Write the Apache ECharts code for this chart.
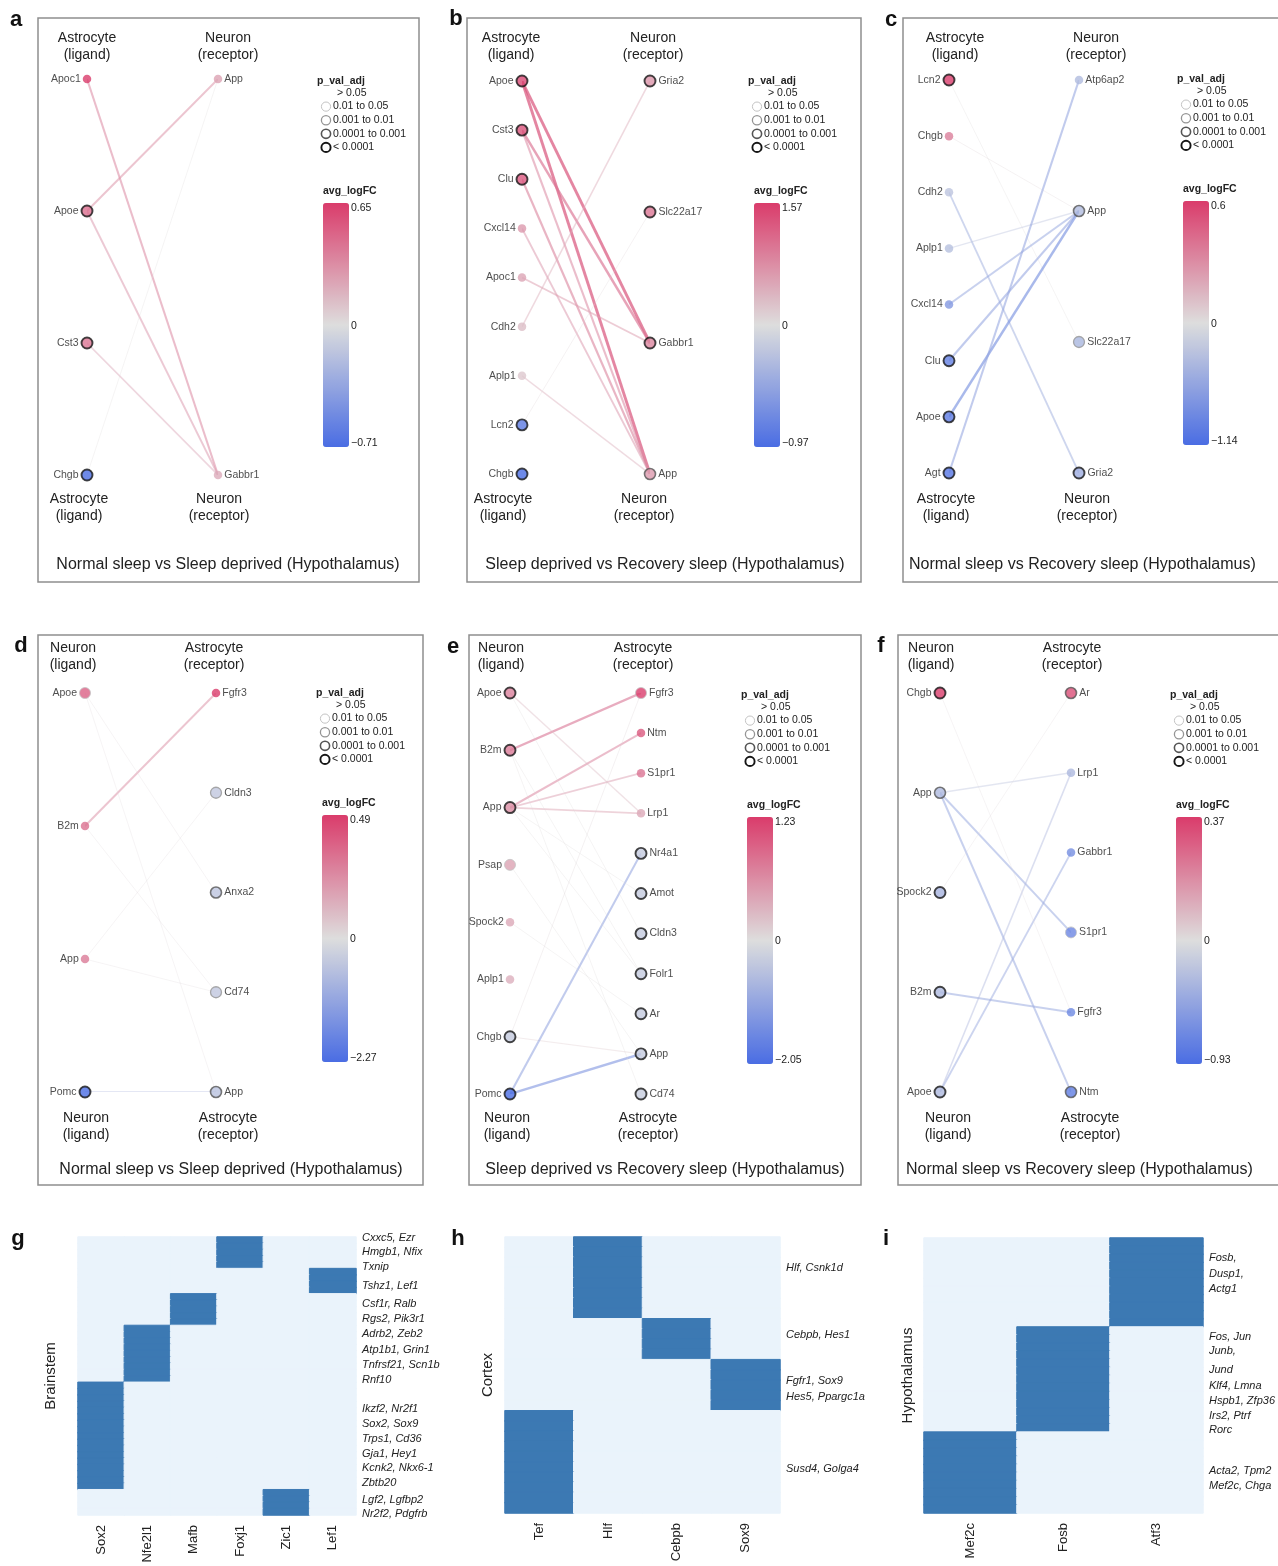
<!DOCTYPE html>
<html>
<head>
<meta charset="utf-8">
<script src="https://cdn.jsdelivr.net/npm/echarts@6/dist/echarts.min.js"></script>
<style>
  html, body { margin: 0; padding: 0; background: #ffffff; }
  #fig { width: 1278px; height: 1566px; }
</style>
</head>
<body>
<div id="fig"></div>
<script>
// ---------- Ligand-receptor networks (avg_logFC, adjusted p-value class 0..4) ----------
// p class: 0 '> 0.05', 1 '0.01 to 0.05', 2 '0.001 to 0.01', 3 '0.0001 to 0.001', 4 '< 0.0001'
// edges: [ligand index, receptor index, interaction score on the -1..1 colour scale]

// a: astrocyte -> neuron, Normal sleep vs Sleep deprived
const aLigand = ['Apoc1', 'Apoe', 'Cst3', 'Chgb'];
const aLigandFC = [0.65, 0.45, 0.42, -0.71];
const aLigandP = [0, 4, 4, 4];
const aReceptor = ['App', 'Gabbr1'];
const aReceptorFC = [0.24, 0.2];
const aReceptorP = [0, 0];
const aEdges = [[0, 1, 0.5], [1, 0, 0.45], [1, 1, 0.42], [2, 1, 0.32], [3, 0, 0.04]];
const aScale = [-0.71, 0.65];

// b: astrocyte -> neuron, Sleep deprived vs Recovery sleep
const bLigand = ['Apoe', 'Cst3', 'Clu', 'Cxcl14', 'Apoc1', 'Cdh2', 'Aplp1', 'Lcn2', 'Chgb'];
const bLigandFC = [1.45, 1.35, 1.3, 0.65, 0.55, 0.3, 0.2, -0.85, -0.97];
const bLigandP = [4, 4, 4, 0, 0, 0, 0, 4, 4];
const bReceptor = ['Gria2', 'Slc22a17', 'Gabbr1', 'App'];
const bReceptorFC = [0.7, 1.0, 0.85, 0.65];
const bReceptorP = [4, 4, 4, 3];
const bEdges = [[0, 2, 0.8], [0, 3, 0.8], [1, 2, 0.65], [1, 3, 0.5], [2, 3, 0.55], [3, 3, 0.42],
                [4, 2, 0.4], [5, 0, 0.3], [6, 3, 0.28], [7, 1, 0.05], [8, 3, 0.04]];
const bScale = [-0.97, 1.57];

// c: astrocyte -> neuron, Normal sleep vs Recovery sleep
const cLigand = ['Lcn2', 'Chgb', 'Cdh2', 'Aplp1', 'Cxcl14', 'Clu', 'Apoe', 'Agt'];
const cLigandFC = [0.6, 0.35, -0.25, -0.3, -0.7, -0.95, -1.0, -1.05];
const cLigandP = [4, 0, 0, 0, 0, 4, 4, 4];
const cReceptor = ['Atp6ap2', 'App', 'Slc22a17', 'Gria2'];
const cReceptorFC = [-0.35, -0.35, -0.4, -0.5];
const cReceptorP = [0, 3, 2, 4];
const cEdges = [[0, 2, 0.04], [1, 1, 0.05], [2, 3, -0.4], [3, 1, -0.22], [4, 1, -0.45],
                [5, 1, -0.5], [6, 1, -0.65], [7, 0, -0.5]];
const cScale = [-1.14, 0.6];

// d: neuron -> astrocyte, Normal sleep vs Sleep deprived
const dLigand = ['Apoe', 'B2m', 'App', 'Pomc'];
const dLigandFC = [0.38, 0.33, 0.3, -2.27];
const dLigandP = [1, 0, 0, 4];
const dReceptor = ['Fgfr3', 'Cldn3', 'Anxa2', 'Cd74', 'App'];
const dReceptorFC = [0.49, -0.45, -0.5, -0.45, -0.55];
const dReceptorP = [0, 2, 3, 2, 3];
const dEdges = [[1, 0, 0.45], [3, 4, -0.3], [0, 2, 0.03], [0, 4, 0.03], [1, 3, 0.03],
                [2, 1, 0.03], [2, 3, 0.03]];
const dScale = [-2.27, 0.49];

// e: neuron -> astrocyte, Sleep deprived vs Recovery sleep
const eLigand = ['Apoe', 'B2m', 'App', 'Psap', 'Spock2', 'Aplp1', 'Chgb', 'Pomc'];
const eLigandFC = [0.7, 0.75, 0.6, 0.45, 0.4, 0.35, -0.35, -2.05];
const eLigandP = [4, 4, 4, 1, 0, 0, 4, 4];
const eReceptor = ['Fgfr3', 'Ntm', 'S1pr1', 'Lrp1', 'Nr4a1', 'Amot', 'Cldn3', 'Folr1', 'Ar', 'App', 'Cd74'];
const eReceptorFC = [1.23, 1.0, 0.8, 0.4, -0.35, -0.35, -0.35, -0.35, -0.35, -0.35, -0.3];
const eReceptorP = [1, 0, 0, 0, 4, 4, 4, 4, 4, 4, 4];
const eEdges = [[1, 0, 0.6], [2, 1, 0.5], [2, 2, 0.38], [2, 3, 0.35], [0, 3, 0.22], [6, 0, 0.06],
                [6, 9, 0.12], [7, 4, -0.5], [7, 9, -0.6], [0, 6, 0.04], [1, 10, 0.04], [2, 5, 0.04],
                [2, 7, 0.04], [3, 9, 0.04], [4, 8, 0.04], [1, 7, 0.04]];
const eScale = [-2.05, 1.23];

// f: neuron -> astrocyte, Normal sleep vs Recovery sleep
const fLigand = ['Chgb', 'App', 'Spock2', 'B2m', 'Apoe'];
const fLigandFC = [0.37, -0.3, -0.35, -0.3, -0.3];
const fLigandP = [4, 3, 4, 4, 4];
const fReceptor = ['Ar', 'Lrp1', 'Gabbr1', 'S1pr1', 'Fgfr3', 'Ntm'];
const fReceptorFC = [0.33, -0.3, -0.65, -0.72, -0.7, -0.8];
const fReceptorP = [3, 0, 0, 1, 0, 3];
const fEdges = [[1, 1, -0.22], [1, 3, -0.45], [1, 5, -0.45], [3, 4, -0.45], [4, 2, -0.42],
                [4, 1, -0.3], [2, 0, 0.03], [0, 4, 0.03]];
const fScale = [-0.93, 0.37];

const pvalLabels = ['> 0.05', '0.01 to 0.05', '0.001 to 0.01', '0.0001 to 0.001', '< 0.0001'];

// ---------- Regulon cluster heatmaps ----------
// blocks: [transcription factor, number of target-gene rows], top to bottom
const gRegion = 'Brainstem';
const gFactors = ['Sox2', 'Nfe2l1', 'Mafb', 'Foxj1', 'Zic1', 'Lef1'];
const gBlocks = [['Foxj1', 5], ['Lef1', 4], ['Mafb', 5], ['Nfe2l1', 9], ['Sox2', 17], ['Zic1', 4]];
const gGeneText = ['Cxxc5, Ezr', 'Hmgb1, Nfix', 'Txnip', 'Tshz1, Lef1', 'Csf1r, Ralb', 'Rgs2, Pik3r1',
  'Adrb2, Zeb2', 'Atp1b1, Grin1', 'Tnfrsf21, Scn1b', 'Rnf10', 'Ikzf2, Nr2f1', 'Sox2, Sox9',
  'Trps1, Cd36', 'Gja1, Hey1', 'Kcnk2, Nkx6-1', 'Zbtb20', 'Lgf2, Lgfbp2', 'Nr2f2, Pdgfrb'];
const gGeneRow = [0.2, 2.4, 4.7, 7.7, 10.6, 13.0, 15.4, 17.9, 20.3, 22.6, 27.2, 29.6, 32.0, 34.3, 36.6, 39.0, 41.6, 43.8];

const hRegion = 'Cortex';
const hFactors = ['Tef', 'Hlf', 'Cebpb', 'Sox9'];
const hBlocks = [['Hlf', 8], ['Cebpb', 4], ['Sox9', 5], ['Tef', 10]];
const hGeneText = ['Hlf, Csnk1d', 'Cebpb, Hes1', 'Fgfr1, Sox9', 'Hes5, Ppargc1a', 'Susd4, Golga4'];
const hGeneRow = [3.0, 9.6, 14.1, 15.6, 22.7];

const iRegion = 'Hypothalamus';
const iFactors = ['Mef2c', 'Fosb', 'Atf3'];
const iBlocks = [['Atf3', 11], ['Fosb', 13], ['Mef2c', 10]];
const iGeneText = ['Fosb,', 'Dusp1,', 'Actg1', 'Fos, Jun', 'Junb,', 'Jund', 'Klf4, Lmna',
  'Hspb1, Zfp36', 'Irs2, Ptrf', 'Rorc', 'Acta2, Tpm2', 'Mef2c, Chga'];
const iGeneRow = [2.5, 4.5, 6.3, 12.2, 14.0, 16.3, 18.3, 20.1, 22.0, 23.7, 28.8, 30.7];

// ---------- styling ----------
const FONT = '"Liberation Sans", Arial, Helvetica, sans-serif';
const RED = '#da3c6b', MID = '#dddddd', BLUE = '#4a6de3';
const HEAT_DARK = '#3c79b3', HEAT_LIGHT = '#eaf3fb';
const P_STROKE = [null, '#c4c4c4', '#959595', '#555555', '#151515'];
const P_WIDTH = [0, 1, 1.3, 1.6, 1.9];
const TXT = '#222222';

const networks = [
  { key: 'a', title: 'Normal sleep vs Sleep deprived (Hypothalamus)', heads: ['Astrocyte\n(ligand)', 'Neuron\n(receptor)'],
    ligand: aLigand, ligandFC: aLigandFC, ligandP: aLigandP, receptor: aReceptor, receptorFC: aReceptorFC, receptorP: aReceptorP, edges: aEdges, scale: aScale,
    L: { box: [38, 18, 381, 564], letter: [16, 20], cols: [87, 218], rows: [79, 475], headTop: [87, 228], headBot: [79, 219], headY: [46.5, 508], legend: [317, 81], bar: 244, title: [228, 565, 'center'] } },
  { key: 'b', title: 'Sleep deprived vs Recovery sleep (Hypothalamus)', heads: ['Astrocyte\n(ligand)', 'Neuron\n(receptor)'],
    ligand: bLigand, ligandFC: bLigandFC, ligandP: bLigandP, receptor: bReceptor, receptorFC: bReceptorFC, receptorP: bReceptorP, edges: bEdges, scale: bScale,
    L: { box: [467, 18, 394, 564], letter: [456, 19], cols: [522, 650], rows: [81, 474], headTop: [511, 653], headBot: [503, 644], headY: [46.5, 508], legend: [748, 81], bar: 244, title: [665, 565, 'center'] } },
  { key: 'c', title: 'Normal sleep vs Recovery sleep (Hypothalamus)', heads: ['Astrocyte\n(ligand)', 'Neuron\n(receptor)'],
    ligand: cLigand, ligandFC: cLigandFC, ligandP: cLigandP, receptor: cReceptor, receptorFC: cReceptorFC, receptorP: cReceptorP, edges: cEdges, scale: cScale,
    L: { box: [903, 18, 400, 564], letter: [891, 20], cols: [949, 1079], rows: [80, 473], headTop: [955, 1096], headBot: [946, 1087], headY: [46.5, 508], legend: [1177, 79], bar: 244, title: [909, 565, 'left'] } },
  { key: 'd', title: 'Normal sleep vs Sleep deprived (Hypothalamus)', heads: ['Neuron\n(ligand)', 'Astrocyte\n(receptor)'],
    ligand: dLigand, ligandFC: dLigandFC, ligandP: dLigandP, receptor: dReceptor, receptorFC: dReceptorFC, receptorP: dReceptorP, edges: dEdges, scale: dScale,
    L: { box: [38, 635, 385, 550], letter: [21, 646], cols: [85, 216], rows: [693, 1092], headTop: [73, 214], headBot: [86, 228], headY: [657, 1127], legend: [316, 693], bar: 247, title: [231, 1170, 'center'] } },
  { key: 'e', title: 'Sleep deprived vs Recovery sleep (Hypothalamus)', heads: ['Neuron\n(ligand)', 'Astrocyte\n(receptor)'],
    ligand: eLigand, ligandFC: eLigandFC, ligandP: eLigandP, receptor: eReceptor, receptorFC: eReceptorFC, receptorP: eReceptorP, edges: eEdges, scale: eScale,
    L: { box: [469, 635, 392, 550], letter: [453, 647], cols: [510, 641], rows: [693, 1094], headTop: [501, 643], headBot: [507, 648], headY: [657, 1127], legend: [741, 695], bar: 247, title: [665, 1170, 'center'] } },
  { key: 'f', title: 'Normal sleep vs Recovery sleep (Hypothalamus)', heads: ['Neuron\n(ligand)', 'Astrocyte\n(receptor)'],
    ligand: fLigand, ligandFC: fLigandFC, ligandP: fLigandP, receptor: fReceptor, receptorFC: fReceptorFC, receptorP: fReceptorP, edges: fEdges, scale: fScale,
    L: { box: [898, 635, 400, 550], letter: [881, 646], cols: [940, 1071], rows: [693, 1092], headTop: [931, 1072], headBot: [948, 1090], headY: [657, 1127], legend: [1170, 695], bar: 247, title: [906, 1170, 'left'] } }
];

const heatmaps = [
  { key: 'g', region: gRegion, factors: gFactors, blocks: gBlocks, geneText: gGeneText, geneRow: gGeneRow,
    L: { grid: [78, 1237, 278, 278], letter: [18, 1239], nameGap: 20 } },
  { key: 'h', region: hRegion, factors: hFactors, blocks: hBlocks, geneText: hGeneText, geneRow: hGeneRow,
    L: { grid: [505, 1237, 275, 276], letter: [458, 1239], nameGap: 10 } },
  { key: 'i', region: iRegion, factors: iFactors, blocks: iBlocks, geneText: iGeneText, geneRow: iGeneRow,
    L: { grid: [924, 1238, 282, 275], letter: [886, 1239], nameGap: 9 } }
];

// ---------- helpers ----------
function hexRgb(h) { const n = parseInt(h.slice(1), 16); return [(n >> 16) & 255, (n >> 8) & 255, n & 255]; }
function mixHex(a, b, t) {
  const A = hexRgb(a), B = hexRgb(b);
  return 'rgb(' + A.map((v, i) => Math.round(v + (B[i] - v) * t)).join(',') + ')';
}
// logFC -> position on the two-sided colour scale (0 sits in the middle of the bar)
function fcNorm(v, scale) { return v >= 0 ? v / scale[1] : v / -scale[0]; }
function scoreColor(t) { return t >= 0 ? mixHex(MID, RED, Math.min(1, t)) : mixHex(MID, BLUE, Math.min(1, -t)); }
function fmt(v) { return (v < 0 ? '\u2212' : '') + Math.abs(v); }
function yPos(i, n) { return n > 1 ? i / (n - 1) : 0.5; }

const grids = [], xAxes = [], yAxes = [], series = [], visualMaps = [], graphics = [];

function text(x, y, str, size, opts) {
  graphics.push(Object.assign({
    type: 'text', x: x, y: y, silent: true,
    style: Object.assign({ text: str, fontSize: size, fontFamily: FONT, fill: TXT, align: 'left', verticalAlign: 'middle' }, (opts && opts.style) || {})
  }, (opts && opts.el) || {}));
}

// ---------- network panels ----------
networks.forEach(p => {
  const L = p.L;
  const gi = grids.length;
  grids.push({ left: L.cols[0], top: L.rows[0], width: L.cols[1] - L.cols[0], height: L.rows[1] - L.rows[0] });
  const xi = xAxes.length, yi = yAxes.length;
  xAxes.push({ gridIndex: gi, type: 'value', min: 0, max: 1, show: false });
  yAxes.push({ gridIndex: gi, type: 'value', min: 0, max: 1, inverse: true, show: false });
  const nL = p.ligand.length, nR = p.receptor.length;

  series.push({
    type: 'lines', coordinateSystem: 'cartesian2d', xAxisIndex: xi, yAxisIndex: yi, z: 2, silent: true,
    data: p.edges.map(([s, r, w]) => ({
      coords: [[0, yPos(s, nL)], [1, yPos(r, nR)]],
      lineStyle: { color: scoreColor(w), width: 0.8 + 2.6 * Math.abs(w), opacity: 0.3 + 0.55 * Math.abs(w) }
    }))
  });

  const node = (name, x, y, fc, pc, side) => ({
    name: name,
    value: [x, y, fcNorm(fc, p.scale)],
    symbolSize: pc > 0 ? 11 : 8.5,
    itemStyle: { borderColor: P_STROKE[pc] || 'transparent', borderWidth: P_WIDTH[pc] },
    label: { position: side }
  });
  const nodes = [];
  p.ligand.forEach((nm, i) => nodes.push(node(nm, 0, yPos(i, nL), p.ligandFC[i], p.ligandP[i], 'left')));
  p.receptor.forEach((nm, i) => nodes.push(node(nm, 1, yPos(i, nR), p.receptorFC[i], p.receptorP[i], 'right')));
  const si = series.length;
  series.push({
    type: 'scatter', xAxisIndex: xi, yAxisIndex: yi, z: 3, silent: true, data: nodes,
    label: { show: true, formatter: '{b}', distance: 2, fontSize: 10.5, fontFamily: FONT, color: TXT }
  });

  const [lx, ly] = L.legend;
  const barTop = ly + 122, barLeft = lx + 6;
  visualMaps.push({
    type: 'continuous', seriesIndex: si, dimension: 2, min: -1, max: 1,
    inRange: { color: [BLUE, MID, RED] }, calculable: false, hoverLink: false,
    left: barLeft, top: barTop, itemWidth: 26, itemHeight: L.bar, padding: 0, text: null
  });

  // frame, letter, headers and title
  graphics.push({ type: 'rect', silent: true, shape: { x: L.box[0], y: L.box[1], width: L.box[2], height: L.box[3] },
    style: { fill: 'none', stroke: '#8e8e8e', lineWidth: 1.5 } });
  text(L.letter[0], L.letter[1], p.key, 22, { style: { fontWeight: 'bold', align: 'center', fill: '#111' } });
  text(L.headTop[0], L.headY[0], p.heads[0], 14, { style: { align: 'center', lineHeight: 17 } });
  text(L.headTop[1], L.headY[0], p.heads[1], 14, { style: { align: 'center', lineHeight: 17 } });
  text(L.headBot[0], L.headY[1], p.heads[0], 14, { style: { align: 'center', lineHeight: 17 } });
  text(L.headBot[1], L.headY[1], p.heads[1], 14, { style: { align: 'center', lineHeight: 17 } });
  text(L.title[0], L.title[1], p.title, 16, { style: { align: L.title[2] } });

  // p_val_adj key
  text(lx, ly, 'p_val_adj', 10.5, { style: { fontWeight: 'bold' } });
  pvalLabels.forEach((lab, k) => {
    const cy = ly + 12 + 13.6 * k;
    if (k === 0) { text(lx + 20, cy, lab, 10.5); return; }
    graphics.push({ type: 'circle', silent: true, shape: { cx: lx + 9, cy: cy, r: 4.6 },
      style: { fill: '#ffffff', stroke: P_STROKE[k], lineWidth: P_WIDTH[k] } });
    text(lx + 16, cy, lab, 10.5);
  });

  // avg_logFC colour bar labels
  text(barLeft, barTop - 12, 'avg_logFC', 10.5, { style: { fontWeight: 'bold' } });
  text(barLeft + 28, barTop + 5, fmt(p.scale[1]), 10.5);
  text(barLeft + 28, barTop + L.bar / 2 + 1, '0', 10.5);
  text(barLeft + 28, barTop + L.bar - 4, fmt(p.scale[0]), 10.5);
});

// ---------- heatmap panels ----------
const heatSeries = [];
heatmaps.forEach(h => {
  const L = h.L;
  const gi = grids.length;
  grids.push({ left: L.grid[0], top: L.grid[1], width: L.grid[2], height: L.grid[3] });
  const rows = [], data = [];
  h.blocks.forEach(([tf, n]) => {
    const c = h.factors.indexOf(tf);
    for (let k = 0; k < n; k++) {
      const r = rows.length;
      rows.push('row' + r);
      h.factors.forEach((_, j) => {
        const v = j === c ? 1 : 0;
        // cell edge painted in the cell colour so neighbouring rows merge without seams
        data.push({ value: [j, r, v], itemStyle: { borderColor: v ? HEAT_DARK : HEAT_LIGHT, borderWidth: 1 } });
      });
    }
  });
  const xi = xAxes.length;
  xAxes.push({ gridIndex: gi, type: 'category', data: h.factors, position: 'bottom',
    axisLine: { show: false }, axisTick: { show: false }, splitLine: { show: false },
    axisLabel: { rotate: 90, fontSize: 13, fontFamily: FONT, color: TXT, margin: 10, interval: 0 } });
  const yi = yAxes.length;
  yAxes.push({ gridIndex: gi, type: 'category', data: rows, inverse: true,
    axisLine: { show: false }, axisTick: { show: false }, axisLabel: { show: false }, splitLine: { show: false },
    name: h.region, nameLocation: 'middle', nameRotate: 90, nameGap: L.nameGap,
    nameTextStyle: { fontSize: 15, fontFamily: FONT, color: TXT } });
  const labelMap = {};
  h.geneRow.forEach((v, k) => { labelMap[String(v)] = h.geneText[k]; });
  yAxes.push({ gridIndex: gi, type: 'value', min: 0, max: rows.length, inverse: true, position: 'right',
    axisLine: { show: false }, axisTick: { show: false }, splitLine: { show: false },
    axisLabel: { customValues: h.geneRow, formatter: v => labelMap[String(v)] || '',
      fontSize: 11, fontStyle: 'italic', fontFamily: FONT, color: TXT, margin: 6 } });
  heatSeries.push(series.length);
  series.push({ type: 'heatmap', xAxisIndex: xi, yAxisIndex: yi, data: data, silent: true,
    emphasis: { disabled: true } });
  text(L.letter[0], L.letter[1], h.key, 22, { style: { fontWeight: 'bold', align: 'center', fill: '#111' } });
});
visualMaps.push({ type: 'piecewise', show: false, seriesIndex: heatSeries, dimension: 2,
  pieces: [{ value: 0, color: HEAT_LIGHT }, { value: 1, color: HEAT_DARK }] });

const chart = echarts.init(document.getElementById('fig'), null, { renderer: 'canvas', width: 1278, height: 1566 });
chart.setOption({
  backgroundColor: '#ffffff',
  animation: false,
  grid: grids,
  xAxis: xAxes,
  yAxis: yAxes,
  visualMap: visualMaps,
  series: series,
  graphic: { elements: graphics }
});
</script>
</body>
</html>
